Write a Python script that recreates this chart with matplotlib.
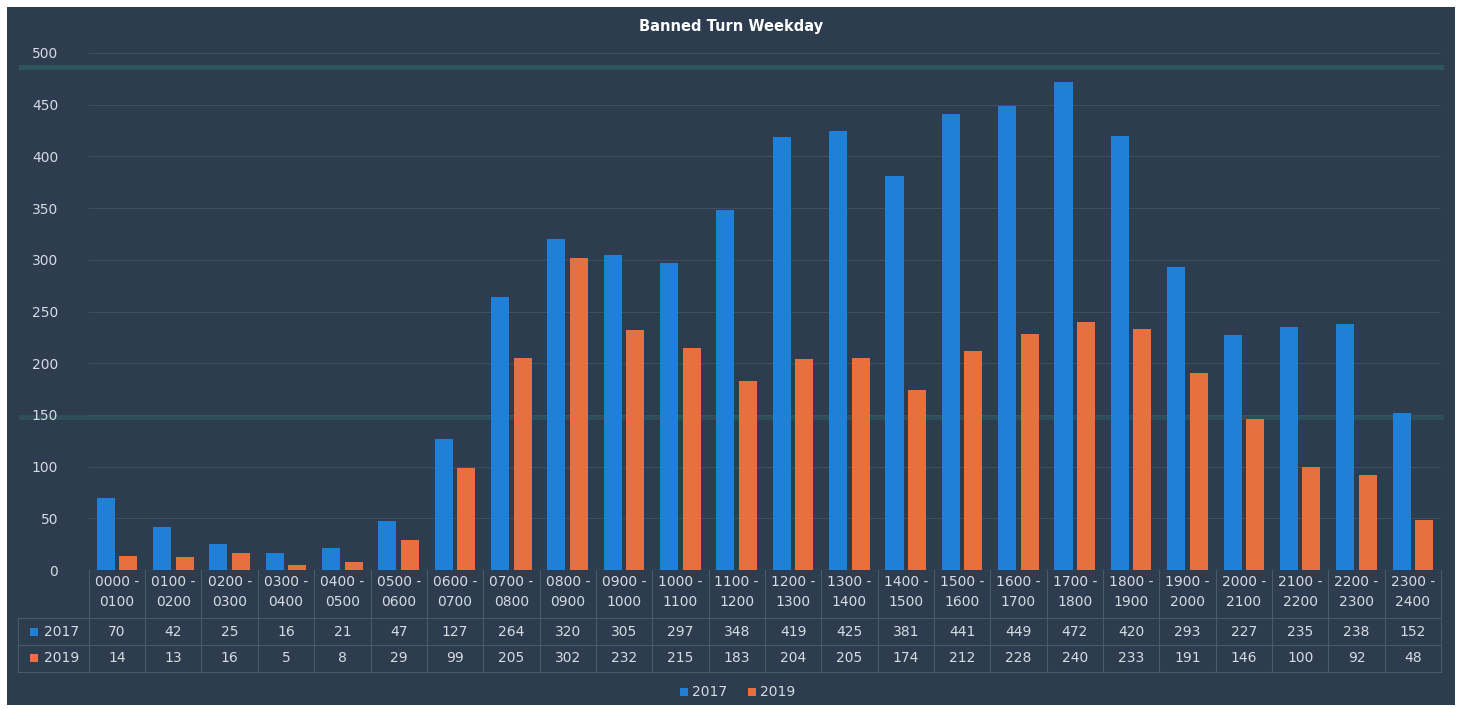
"""
Banned Turn Weekday: hourly counts 2017 vs 2019 with data table below the bars
"""
import matplotlib
matplotlib.use("Agg")
import matplotlib.pyplot as plt
from matplotlib.patches import Rectangle
from matplotlib.transforms import blended_transform_factory
import numpy as np

# data
hours = ["0000", "0100", "0200", "0300", "0400", "0500", "0600", "0700",
         "0800", "0900", "1000", "1100", "1200", "1300", "1400", "1500",
         "1600", "1700", "1800", "1900", "2000", "2100", "2200", "2300", "2400"]
periods = [f"{hours[i]} -\n{hours[i + 1]}" for i in range(24)]
series_names = ["2017", "2019"]
counts_2017 = [70, 42, 25, 16, 21, 47, 127, 264, 320, 305, 297, 348,
               419, 425, 381, 441, 449, 472, 420, 293, 227, 235, 238, 152]
counts_2019 = [14, 13, 16, 5, 8, 29, 99, 205, 302, 232, 215, 183,
               204, 205, 174, 212, 228, 240, 233, 191, 146, 100, 92, 48]
y_ticks = [0, 50, 100, 150, 200, 250, 300, 350, 400, 450, 500]

W, H = 1462, 709
BG = "#2d3c4e"
TXT = "#d6dbe2"
GRID = "#3f4e60"
TABLE_LINE = "#4a596b"
BLUE = "#1f80d8"
ORANGE = "#e8703e"

fig = plt.figure(figsize=(W / 100, H / 100), dpi=100, facecolor="white")
fig.patches.append(Rectangle((7 / W, 4 / H), (1455 - 7) / W, (702 - 4) / H,
                             transform=fig.transFigure, facecolor=BG,
                             edgecolor="none", zorder=-10))

# axes placed in pixel terms
x_left, x_right = 88.8, 1441.0
y_zero, y_top = 570.0, 53.0
ax = fig.add_axes((x_left / W, (H - y_zero) / H,
                   (x_right - x_left) / W, (y_zero - y_top) / H))
ax.set_facecolor("none")
ax.set_xlim(-0.5, 23.5)
ax.set_ylim(0, 500)

x = np.arange(len(periods))
ax.bar(x - 0.2, counts_2017, width=0.32, color=BLUE, zorder=3)
ax.bar(x + 0.2, counts_2019, width=0.32, color=ORANGE, zorder=3)

ax.set_yticks(y_ticks)
ax.set_yticklabels([str(v) for v in y_ticks], color=TXT, fontsize=10)
ax.tick_params(axis="y", length=0, pad=22)
ax.set_xticks([])
ax.grid(axis="y", color=GRID, linewidth=0.8, zorder=0)
for s in ax.spines.values():
    s.set_visible(False)
ax.axhline(0, color="#7a8797", linewidth=0.8, zorder=4)

# faint teal bands across the plot area
for yv, a in ((486, 0.45), (148, 0.3)):
    ax.axhline(yv, xmin=-0.05, xmax=1.0, color="#2f7a78", linewidth=3.5,
               alpha=a, zorder=1, clip_on=False)

fig.text(0.5, (H - 27) / H, "Banned Turn Weekday", ha="center", va="center",
         color="white", fontsize=10.5, fontweight="bold")

# data table under the axis
span = y_zero - y_top


def ay(py):
    return (y_zero - py) / span


tr = blended_transform_factory(ax.transData, ax.transAxes)
trf = blended_transform_factory(fig.transFigure, ax.transAxes)
tab_left = 18 / W
row_lines = [618, 645, 672]

for i, lab in enumerate(periods):
    ax.text(i, ay(592), lab, transform=tr, ha="center", va="center",
            color=TXT, fontsize=10, linespacing=1.55, clip_on=False)
    ax.text(i, ay(632), str(counts_2017[i]), transform=tr, ha="center",
            va="center", color=TXT, fontsize=10, clip_on=False)
    ax.text(i, ay(658), str(counts_2019[i]), transform=tr, ha="center",
            va="center", color=TXT, fontsize=10, clip_on=False)

for i in range(25):
    ax.plot([i - 0.5, i - 0.5], [0, ay(row_lines[-1])], transform=tr,
            color=TABLE_LINE, linewidth=0.8, clip_on=False)
for py in row_lines:
    ax.plot([tab_left, x_right / W], [ay(py), ay(py)], transform=trf,
            color=TABLE_LINE, linewidth=0.8, clip_on=False)
ax.plot([tab_left, tab_left], [ay(618), ay(672)], transform=trf,
        color=TABLE_LINE, linewidth=0.8, clip_on=False)

for name, col, py in [(series_names[0], BLUE, 632), (series_names[1], ORANGE, 658)]:
    fig.patches.append(Rectangle((30 / W, (H - py - 4) / H), 8 / W, 8 / H,
                                 transform=fig.transFigure, facecolor=col,
                                 edgecolor="none"))
    fig.text(44 / W, (H - py) / H, name, ha="left", va="center",
             color=TXT, fontsize=10)

# legend
for name, col, px in [(series_names[0], BLUE, 680), (series_names[1], ORANGE, 748)]:
    fig.patches.append(Rectangle((px / W, (H - 692 - 4) / H), 8 / W, 8 / H,
                                 transform=fig.transFigure, facecolor=col,
                                 edgecolor="none"))
    fig.text((px + 12) / W, (H - 692) / H, name, ha="left", va="center",
             color=TXT, fontsize=10)

fig.savefig("out.png", dpi=100, facecolor="white")
